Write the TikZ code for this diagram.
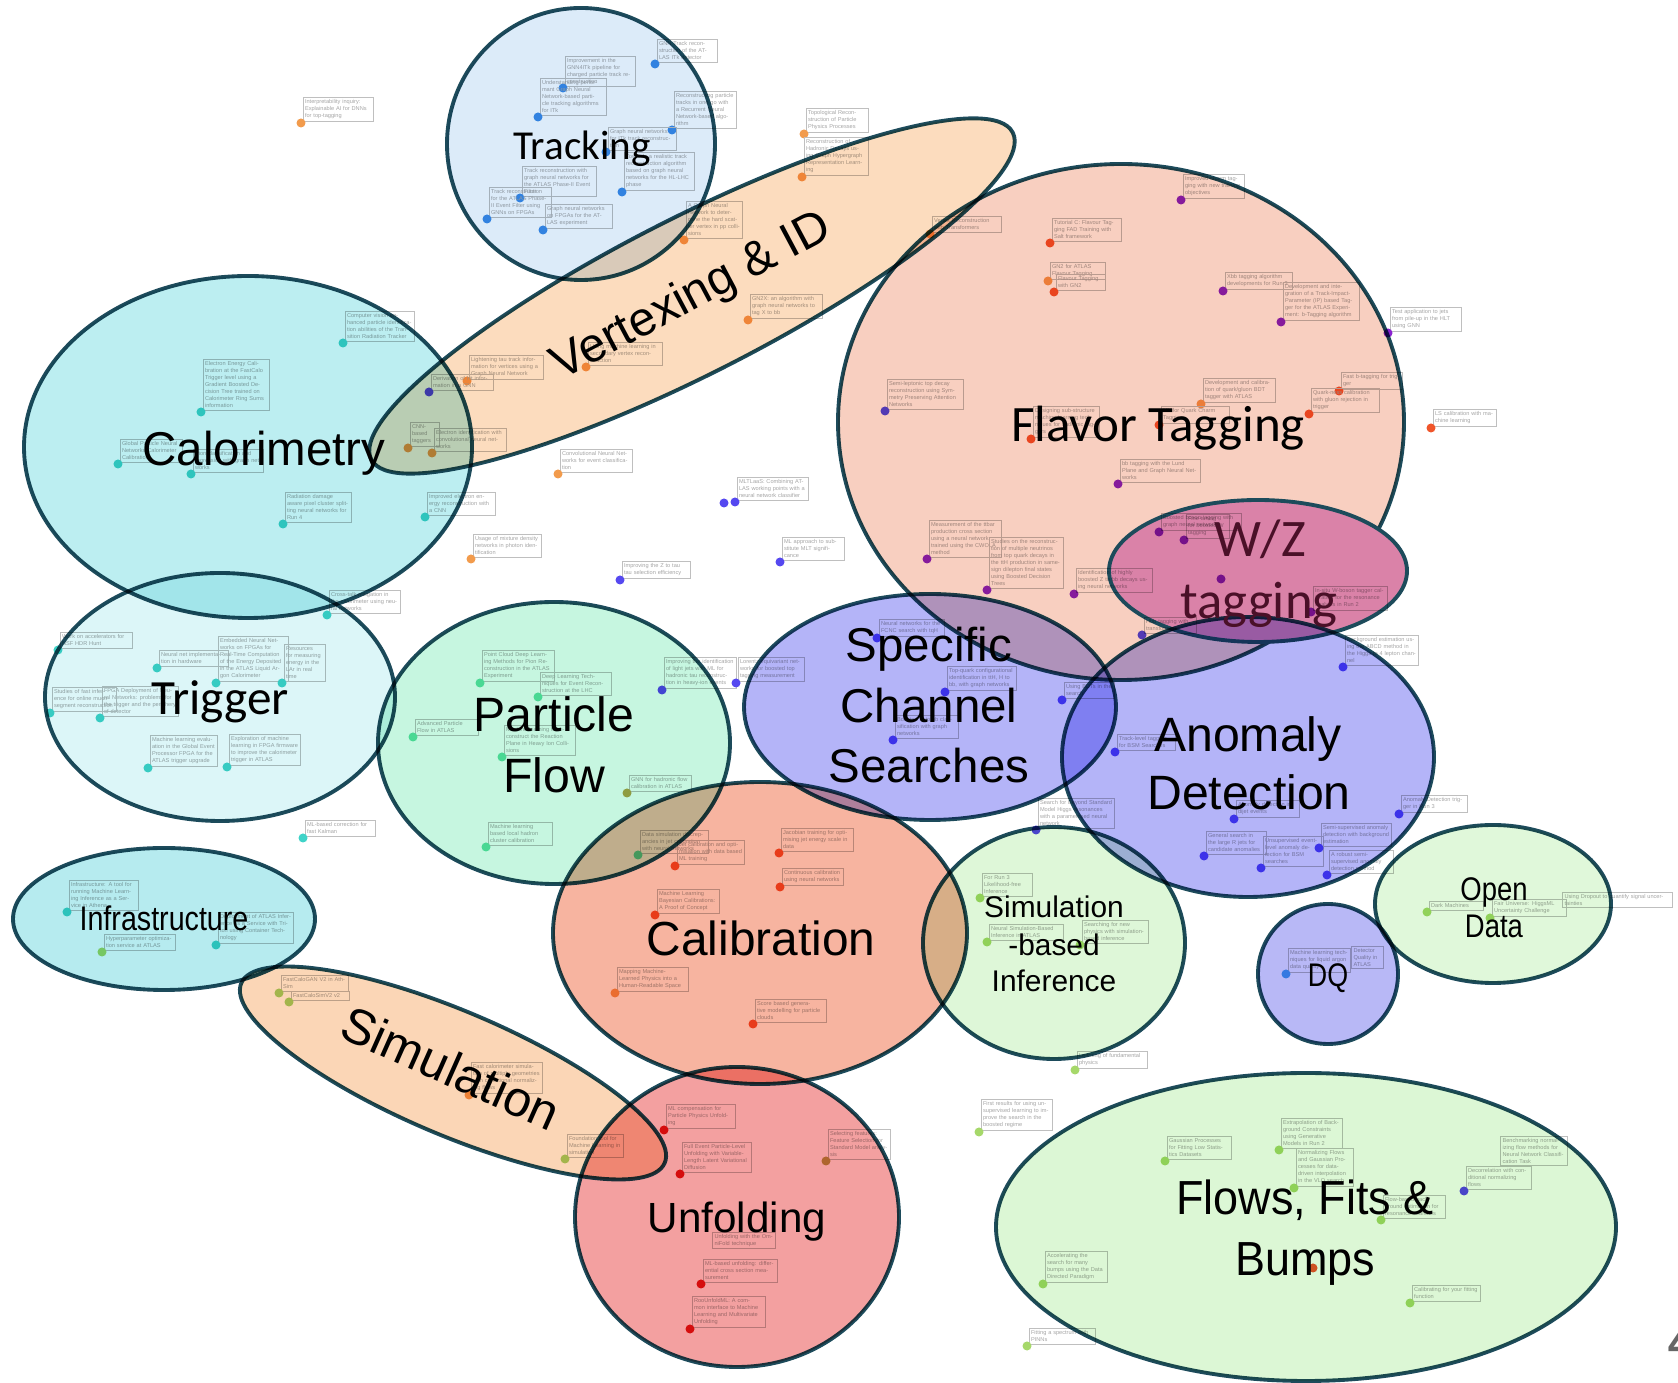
\documentclass[tikz,border=0pt]{standalone}
\usepackage{fontspec}
\setmainfont{Liberation Sans}
\newfontfamily\carlito{Carlito}

% area fills (combined with multiply blending)
\definecolor{edgeC}{HTML}{1D4B5B}
\definecolor{trackFill}{HTML}{DCEBF9}
\definecolor{vertFill}{HTML}{FCDCBE}
\definecolor{caloFill}{HTML}{BCEEF1}
\definecolor{flavFill}{HTML}{F8CFC0}
\definecolor{wzFill}{HTML}{DA82A8}
\definecolor{trigFill}{HTML}{DCF6F8}
\definecolor{pfFill}{HTML}{C6F6E0}
\definecolor{specFill}{HTML}{B4B4F8}
\definecolor{anomFill}{HTML}{B4B4F8}
\definecolor{calibFill}{HTML}{F7B4A0}
\definecolor{sbiFill}{HTML}{DEF7D8}
\definecolor{openFill}{HTML}{E0F8DA}
\definecolor{dqFill}{HTML}{B8B8F6}
\definecolor{infraFill}{HTML}{B6EBEF}
\definecolor{simFill}{HTML}{FBD6B6}
\definecolor{unfFill}{HTML}{F3A0A0}
\definecolor{flowFill}{HTML}{DCF7D5}
\definecolor{wzText}{HTML}{4A1028}
% contribution markers
\definecolor{dBlue}{HTML}{3A8EE6}
\definecolor{dOrange}{HTML}{F29B4C}
\definecolor{dTeal}{HTML}{3FD3C8}
\definecolor{dMint}{HTML}{5FE0A8}
\definecolor{dPurple}{HTML}{8A22D0}
\definecolor{dRedOr}{HTML}{F0552A}
\definecolor{dViolet}{HTML}{5548F0}
\definecolor{dRed}{HTML}{E01515}
\definecolor{dGreen}{HTML}{A6D86A}
\definecolor{dOlive}{HTML}{B8A24A}
\definecolor{dSky}{HTML}{4AA8EA}

\tikzset{
  notebox/.style={draw=gray!50, line width=0.25pt, inner sep=0.6pt,
    font=\fontsize{1.6}{2.0}\selectfont, text=gray!70, align=left},
  area/.style={draw=edgeC, line width=1.1pt},
  lbl/.style={inner sep=0pt, anchor=base, text=black},
}

% contribution: name, marker x, marker y, box width (cm), marker colour, text
\newcommand{\nt}[6]{%
  \node[notebox,text width=#4cm,anchor=south west] (#1) at (#2+1.5,#3-1.5) {#6};
  \fill[#5] (#2,#3) circle[radius=0.045cm];}
% box without marker: name, lower-left x, y, width, text
\newcommand{\nb}[5]{%
  \node[notebox,text width=#4cm,anchor=south west] (#1) at (#2,#3) {#5};}

\begin{document}
\begin{tikzpicture}[x=0.01cm,y=-0.01cm]
\useasboundingbox (0,0) rectangle (1678,1383);
\fill[white] (0,0) rectangle (1678,1383);
\clip (0,0) rectangle (1678,1383);

% ---------------- contributions ----------------
\nt{n1}{301}{123}{0.66}{dOrange}{Interpretability inquiry: Explainable AI for DNNs for top-tagging}
% tracking
\nt{n2}{655}{64}{0.56}{dBlue}{GNN Track reconstruction of the ATLAS ITk detector}
\nt{n3}{563}{88}{0.66}{dBlue}{Improvement in the GNN4ITk pipeline for charged particle track reconstruction}
\nt{n4}{538}{117}{0.62}{dBlue}{Understanding performant Graph Neural Network-based particle tracking algorithms for ITk}
\nt{n5}{672}{130}{0.58}{dBlue}{Reconstructing particle tracks in one go with a Recurrent Neural Network-based algorithm}
\nt{n6}{606}{152}{0.64}{dBlue}{Graph neural networks for ITk track reconstruction}
\nt{n7}{622}{192}{0.66}{dBlue}{Towards a realistic track reconstruction algorithm based on graph neural networks for the HL-LHC phase}
\nt{n8}{520}{198}{0.70}{dBlue}{Track reconstruction with graph neural networks for the ATLAS Phase-II Event Filter}
\nt{n9}{487}{219}{0.58}{dBlue}{Track reconstruction for the ATLAS Phase-II Event Filter using GNNs on FPGAs}
\nt{n10}{543}{230}{0.63}{dBlue}{Graph neural networks on FPGAs for the ATLAS experiment}
% vertexing
\nt{n11}{804}{134}{0.58}{dOrange}{Topological Reconstruction of Particle Physics Processes}
\nt{n12}{802}{177}{0.60}{dOrange}{Reconstruction of Hadronic Decays using Graph Hypergraph Representation Learning}
\nt{n13}{930}{234}{0.65}{dOrange}{Vertex Reconstruction with Transformers}
\nt{n14}{684}{240}{0.52}{dOrange}{A Graph Neural Network to determine the hard scatter vertex in pp collisions}
\nt{n15}{748}{320}{0.68}{dOrange}{GN2X: an algorithm with graph neural networks to tag X to bb}
\nt{n16}{586}{367}{0.70}{dOrange}{Using machine learning in secondary vertex reconstruction}
\nt{n17}{467}{381}{0.70}{dOrange}{Lightening tau track information for vertices using a Graph Neural Network}
\nt{n18}{429}{392}{0.58}{dViolet}{Derivation of hit information in a GNN}
\nt{n19}{408}{448}{0.25}{dOrange}{CNN-based taggers}
\nt{n20}{432}{453}{0.68}{dOrange}{Electron identification with convolutional neural networks}
\nt{n21}{558}{474}{0.68}{dOrange}{Convolutional Neural Networks for event classification}
\fill[dViolet] (724,503) circle[radius=0.045cm];
\nt{n23}{735}{502}{0.67}{dViolet}{MLTLaaS: Combining ATLAS working points with a neural network classifier}
\nt{n24}{780}{562}{0.58}{dViolet}{ML approach to substitute MLT significance}
\nt{n25}{620}{580}{0.64}{dViolet}{Improving the Z to tau tau selection efficiency}
\nt{n26}{471}{559}{0.64}{dOrange}{Usage of mixture density networks in photon identification}
% calorimetry
\nt{n27}{343}{343}{0.65}{dTeal}{Computer vision enhanced particle identification abilities of the Transition Radiation Tracker}
\nt{n28}{201}{412}{0.62}{dTeal}{Electron Energy Calibration at the FastCalo Trigger level using a Gradient Boosted Decision Tree trained on Calorimeter Ring Sums information}
\nt{n29}{118}{464}{0.58}{dTeal}{Global Particle Neural Networks Calorimeter Calibration}
\nt{n30}{191}{474}{0.66}{dTeal}{Pion classification and regression with graph networks}
\nt{n31}{283}{524}{0.62}{dTeal}{Radiation damage aware pixel cluster splitting neural networks for Run 4}
\nt{n32}{425}{517}{0.64}{dTeal}{Improved electron energy reconstruction with a CNN}
\nt{n33}{327}{615}{0.67}{dTeal}{Cross-talk mitigation in the calorimeter using neural networks}
% trigger
\nt{n34}{58}{650}{0.68}{dTeal}{Work on accelerators for NSF HDR Hunt}
\nt{n35}{157}{668}{0.65}{dTeal}{Neural net implementation in hardware}
\nt{n36}{216}{683}{0.66}{dTeal}{Embedded Neural Networks on FPGAs for Real-Time Computation of the Energy Deposited in the ATLAS Liquid Argon Calorimeter}
\nt{n37}{282}{683}{0.37}{dTeal}{Resources for measuring energy in the LAr in real time}
\nt{n38}{100}{718}{0.72}{dTeal}{FPGA Deployment of Neural Networks: problems for the trigger and the periphery of detector}
\nt{n39}{50}{713}{0.60}{dTeal}{Studies of fast inference for online muon segment reconstruction}
\nt{n40}{148}{768}{0.63}{dTeal}{Machine learning evaluation in the Global Event Processor FPGA for the ATLAS trigger upgrade}
\nt{n41}{227}{767}{0.67}{dTeal}{Exploration of machine learning in FPGA firmware to improve the calorimeter trigger in ATLAS}
\nt{n42}{303}{838}{0.66}{dTeal}{ML-based correction for fast Kalman}
% particle flow
\nt{n43}{480}{683}{0.68}{dMint}{Point Cloud Deep Learning Methods for Pion Reconstruction in the ATLAS Experiment}
\nt{n44}{538}{697}{0.67}{dMint}{Deep Learning Techniques for Event Reconstruction at the LHC}
\nt{n45}{413}{737}{0.59}{dMint}{Advanced Particle Flow in ATLAS}
\nt{n46}{502}{757}{0.67}{dMint}{Machine learning to reconstruct the Reaction Plane in Heavy Ion Collisions}
\nt{n47}{627}{793}{0.58}{dOlive}{GNN for hadronic flow calibration in ATLAS}
\nt{n48}{486}{847}{0.60}{dMint}{Machine learning based local hadron cluster calibration}
\nt{n49}{662}{690}{0.68}{dViolet}{Improving the identification of light jets with ML for hadronic tau reconstruction in heavy-ion events}
\nt{n50}{736}{683}{0.62}{dViolet}{Lorentz-equivariant networks for boosted top tagging measurement}
\nt{n51}{638}{855}{0.64}{dMint}{Data simulation discrepancies in jet calibration with neural networks}
\nt{n52}{675}{866}{0.63}{dRedOr}{Jet calibration and optimisation with data based ML training}
\nt{n53}{655}{915}{0.58}{dRedOr}{Machine Learning Bayesian Calibrations: A Proof of Concept}
% calibration
\nt{n54}{779}{853}{0.68}{dRedOr}{Jacobian training for optimising jet energy scale in data}
\nt{n55}{780}{887}{0.57}{dRedOr}{Continuous calibration using neural networks}
\nt{n56}{615}{993}{0.67}{dOrange}{Mapping Machine-Learned Physics into a Human-Readable Space}
\nt{n57}{753}{1024}{0.67}{dRedOr}{Score based generative modelling for particle clouds}
% specific channels
\nt{n58}{877}{638}{0.61}{dViolet}{Neural networks for the FCNC search with tqH}
\nt{n59}{945}{692}{0.65}{dViolet}{Top-quark configurational identification in ttH, H to bb, with graph networks}
\nt{n60}{893}{740}{0.59}{dViolet}{Boosted H to bb classification with graph networks}
\nt{n61}{1062}{700}{0.46}{dViolet}{Using BDTs in the search}
\nt{n62}{1036}{830}{0.72}{dViolet}{Search for Beyond Standard Model Higgs resonances with a parametrised neural network}
% anomaly detection
\nt{n63}{1115}{752}{0.54}{dViolet}{Track-level tagging for BSM Searches}
\nt{n64}{1343}{667}{0.69}{dViolet}{Background estimation using the ABCD method in the Higgs to 4 lepton channel}
\nt{n65}{1399}{814}{0.62}{dViolet}{Anomaly Detection trigger in Run 3}
\nt{n66}{1234}{819}{0.59}{dViolet}{Anomaly detection in dijet events}
\nt{n67}{1204}{856}{0.56}{dViolet}{General search in the large R jets for candidate anomalies}
\nt{n68}{1261}{868}{0.56}{dViolet}{Unsupervised event-level anomaly detection for BSM searches}
\nt{n69}{1319}{848}{0.66}{dViolet}{Semi-supervised anomaly detection with background estimation}
\nt{n70}{1327}{875}{0.60}{dViolet}{A robust semi-supervised anomaly detection method}
% flavour tagging
\nt{n76}{1181}{200}{0.57}{dPurple}{Improved charm tagging with new training objectives}
\nt{n77}{1050}{243}{0.65}{dRedOr}{Tutorial C: Flavour Tagging FAD Training with Salt framework}
\nt{n78}{1048}{281}{0.51}{dOrange}{GN2 for ATLAS Flavour Tagging}
\nt{n79}{1054}{292}{0.45}{dRedOr}{Flavour Tagging with GN2}
\nt{n80}{1223}{291}{0.63}{dPurple}{Xbb tagging algorithm developments for Run 3}
\nt{n81}{1281}{322}{0.72}{dPurple}{Development and integration of a Track-Impact-Parameter (IP) based Tagger for the ATLAS Experiment: b-Tagging algorithm}
\nt{n82}{1388}{333}{0.67}{dPurple}{Test application to jets from pile-up in the HLT using GNN}
\nt{n83}{885}{411}{0.72}{dViolet}{Semi-leptonic top decay reconstruction using Symmetry Preserving Attention Networks}
\nt{n84}{1031}{439}{0.62}{dRedOr}{Designing sub-structure machine learning techniques for hadronic taggers}
\nt{n85}{1201}{404}{0.68}{dOrange}{Development and calibration of quark/gluon BDT tagger with ATLAS}
\nt{n86}{1159}{425}{0.64}{dRedOr}{ML for Quark Charm Tagging}
\nt{n87}{1339}{391}{0.57}{dRedOr}{Fast b-tagging for trigger}
\nt{n88}{1309}{414}{0.64}{dRedOr}{Quark-ness calibration with gluon rejection in trigger}
\nt{n89}{1431}{428}{0.59}{dRedOr}{LS calibration with machine learning}
\nt{n90}{1118}{484}{0.76}{dPurple}{bb tagging with the Lund Plane and Graph Neural Networks}
\nt{n91}{927}{559}{0.68}{dPurple}{Measurement of the ttbar production cross section using a neural network trained using the CWOLA method}
\nt{n92}{987}{590}{0.70}{dPurple}{Studies on the reconstruction of multiple neutrinos from top quark decays in the ttH production in same-sign dilepton final states using Boosted Decision Trees}
% simulation-based inference
\nt{n95}{980}{898}{0.46}{dGreen}{For Run 3 Likelihood-free Inference}
\nt{n96}{987}{942}{0.70}{dGreen}{Neural Simulation-Based Inference in ATLAS}
\nt{n97}{1080}{945}{0.62}{dGreen}{Searching for new physics with simulation-based inference}
\nt{n98}{1075}{1070}{0.66}{dGreen}{Learning of fundamental physics}
\nt{n99}{979}{1132}{0.67}{dGreen}{First results for using unsupervised learning to improve the search in the boosted regime}
% open data
\nt{n100}{1427}{912}{0.50}{dGreen}{Dark Machines}
\nt{n101}{1490}{918}{0.70}{dGreen}{Fair Universe: HiggsML Uncertainty Challenge}
\nb{n102}{1562}{908}{1.06}{Using Dropout to quantify signal uncertainties}
% data quality
\nt{n103}{1286}{974}{0.58}{dSky}{Machine learning techniques for liquid argon data quality}
\nb{n104}{1351}{969}{0.28}{Detector Quality in ATLAS}
% infrastructure
\nt{n105}{67}{912}{0.65}{dTeal}{Infrastructure: A tool for running Machine Learning Inference as a Service in Athena}
\nt{n106}{216}{945}{0.71}{dTeal}{Deployment of ATLAS Inference as a Service with Triton using Container Technology}
\nt{n107}{102}{952}{0.67}{dGreen}{Hyperparameter optimization service at ATLAS}
% simulation
\nt{n108}{279}{993}{0.63}{dGreen}{FastCaloGAN V2 in AthSim}
\nt{n109}{289}{1002}{0.54}{dGreen}{FastCaloSimV2 v2}
\nt{n110}{469}{1095}{0.67}{dOrange}{Fast calorimeter simulation of multiple geometries with conditional normalizing flows}
\nt{n111}{565}{1159}{0.52}{dGreen}{Foundation tool for Machine Learning in simulation}
% unfolding
\nt{n112}{664}{1130}{0.65}{dRed}{ML compensation for Particle Physics Unfolding}
\nt{n113}{680}{1174}{0.65}{dRed}{Full Event Particle-Level Unfolding with Variable-Length Latent Variational Diffusion}
\nt{n114}{826}{1161}{0.58}{dOlive}{Selecting features: Feature Selection for Standard Model analysis}
\nb{n115}{712}{1249}{0.59}{Unfolding with the OmniFold technique}
\nt{n116}{701}{1284}{0.70}{dRed}{ML-based unfolding: differential cross section measurement}
\nt{n117}{690}{1329}{0.69}{dRed}{RooUnfoldML: A common interface to Machine Learning and Multivariate Unfolding}
% flows, fits and bumps
\nt{n118}{1165}{1161}{0.60}{dGreen}{Gaussian Processes for Fitting Low Statistics Datasets}
\nt{n119}{1279}{1150}{0.57}{dGreen}{Extrapolation of Background Constraints using Generative Models in Run 2}
\nt{n120}{1294}{1188}{0.53}{dGreen}{Normalizing Flows and Gaussian Processes for data-driven interpolation in the VLQ search}
\nt{n121}{1381}{1220}{0.58}{dGreen}{Flow-based background estimation for resonance searches}
\nt{n122}{1464}{1191}{0.61}{dViolet}{Decorrelation with conditional normalizing flows}
\nb{n123}{1500}{1166}{0.63}{Benchmarking normalizing flow methods for Neural Network Classification Task}
\nt{n124}{1043}{1284}{0.58}{dGreen}{Accelerating the search for many bumps using the Data Directed Paradigm}
\fill[dRedOr] (1313,1268) circle[radius=0.045cm];
\nt{n126}{1410}{1303}{0.64}{dGreen}{Calibrating for your fitting function}
\nt{n127}{1027}{1346}{0.62}{dGreen}{Fitting a spectrum with PINNs}

% ---------------- topic areas ----------------
\begin{scope}[blend mode=multiply]
  \path[area,fill=trackFill] (581,144) ellipse [x radius=134, y radius=136];
  \path[area,fill=vertFill,rotate around={27:(692,296)}] (692,296) ellipse [x radius=360, y radius=78];
  \path[area,fill=caloFill] (248,447) ellipse [x radius=224, y radius=171];
  \path[area,fill=flavFill] (1121,422) ellipse [x radius=283, y radius=258];
  \path[area,fill=wzFill,blend mode=normal] (1258,571) ellipse [x radius=149, y radius=71];
  % W/Z tagging contributions, seen through the filled area
  \nt{n71}{1159}{532}{0.76}{dPurple}{Boosted boson tagging with graph neural networks}
  \nt{n72}{1184}{540}{0.39}{dPurple}{Fine-tuning for boosted W tagging}
  \nt{n73}{1311}{612}{0.70}{dPurple}{In-situ W-boson tagger calibration for the resonance analysis in Run 2}
  \nt{n74}{1142}{635}{0.48}{dViolet}{Hbb tagging with transformers}
  \nt{n93}{1074}{594}{0.72}{dPurple}{Identification of highly boosted Z to bb decays using neural networks}
  \fill[dPurple] (1221,579) circle[radius=0.045cm];
  \path[area,fill=trigFill] (220,697) ellipse [x radius=175, y radius=124];
  \path[area,fill=pfFill] (554,743) ellipse [x radius=176, y radius=141];
  \path[area,fill=specFill] (930,707) ellipse [x radius=186, y radius=113];
  \path[area,fill=anomFill] (1248,757) ellipse [x radius=186, y radius=140];
  \path[area,fill=calibFill] (760,933) ellipse [x radius=207, y radius=151];
  \path[area,fill=sbiFill] (1054,943) ellipse [x radius=131, y radius=116];
  \path[area,fill=openFill] (1493,904) ellipse [x radius=118, y radius=79];
  \path[area,fill=dqFill] (1328,974) ellipse [x radius=70, y radius=70];
  \path[area,fill=infraFill] (164,919) ellipse [x radius=151, y radius=71];
  \path[area,fill=simFill,rotate around={-23:(453,1073)}] (453,1073) ellipse [x radius=230, y radius=62];
  \path[area,fill=unfFill] (737,1217) ellipse [x radius=162, y radius=150];
  \path[area,fill=flowFill] (1306,1227) ellipse [x radius=310, y radius=154];
\end{scope}

% ---------------- topic labels ----------------
\node[lbl,font=\carlito\fontsize{11.7}{14}\selectfont] (lTracking) at (582,160) {Tracking};
\node[inner sep=0pt,rotate=28,font=\fontsize{13.7}{16}\selectfont] (lVertex) at (692,297) {Vertexing \& ID};
\node[lbl,font=\fontsize{13.5}{16}\selectfont] (lCalo) at (264,466) {Calorimetry};
\node[lbl,font=\carlito\fontsize{14.5}{17}\selectfont] (lFlavor) at (1158,442) {Flavor Tagging};
\node[lbl,font=\carlito\fontsize{15}{18}\selectfont,text=wzText] (lWZa) at (1260,557) {W/Z};
\node[lbl,font=\carlito\fontsize{15}{18}\selectfont,text=wzText] (lWZb) at (1259,619) {tagging};
\node[lbl,font=\carlito\fontsize{14}{17}\selectfont] (lTrigger) at (220,715) {Trigger};
\node[lbl,font=\fontsize{13.7}{16}\selectfont] (lPFa) at (554,732) {Particle};
\node[lbl,font=\fontsize{13.7}{16}\selectfont] (lPFb) at (554,793) {Flow};
\node[lbl,font=\fontsize{13.5}{16}\selectfont] (lSpa) at (929,662) {Specific};
\node[lbl,font=\fontsize{13.5}{16}\selectfont] (lSpb) at (929,723) {Channel};
\node[lbl,font=\fontsize{13.5}{16}\selectfont] (lSpc) at (929,783) {Searches};
\node[lbl,font=\fontsize{13.7}{16}\selectfont] (lAnA) at (1248,752) {Anomaly};
\node[lbl,font=\fontsize{13.7}{16}\selectfont] (lAnB) at (1249,810) {Detection};
\node[lbl,font=\fontsize{13.6}{16}\selectfont] (lCalib) at (761,956) {Calibration};
\node[lbl,font=\fontsize{8.5}{10}\selectfont] (lSbiA) at (1054,918) {Simulation};
\node[lbl,font=\fontsize{8.5}{10}\selectfont] (lSbiB) at (1054,956) {-based};
\node[lbl,font=\fontsize{8.5}{10}\selectfont] (lSbiC) at (1054,992) {Inference};
\node[lbl,font=\fontsize{9.3}{11}\selectfont] (lOpenA) at (1494,901) {\scalebox{0.84}[1]{Open}};
\node[lbl,font=\fontsize{9.3}{11}\selectfont] (lOpenB) at (1494,938) {\scalebox{0.84}[1]{Data}};
\node[lbl,font=\fontsize{9.3}{11}\selectfont] (lDQ) at (1328,987) {\scalebox{0.82}[1]{DQ}};
\node[lbl,font=\fontsize{9.7}{11}\selectfont] (lInfra) at (164,931) {\scalebox{0.84}[1]{Infrastructure}};
\node[inner sep=0pt,rotate=-24,font=\fontsize{14.2}{17}\selectfont] (lSim) at (451,1068) {Simulation};
\node[lbl,font=\fontsize{12}{14}\selectfont] (lUnf) at (737,1233) {Unfolding};
\node[lbl,font=\fontsize{13.6}{16}\selectfont] (lFlowA) at (1305,1215) {\scalebox{0.94}[1]{Flows, Fits \&}};
\node[lbl,font=\fontsize{13.6}{16}\selectfont] (lFlowB) at (1305,1276) {\scalebox{0.94}[1]{Bumps}};

% slide number at the page edge
\node[anchor=base west,inner sep=0pt,text=gray!80!black,font=\fontsize{18}{20}\selectfont] (pageNo) at (1667,1362) {4};
\end{tikzpicture}
\end{document}
